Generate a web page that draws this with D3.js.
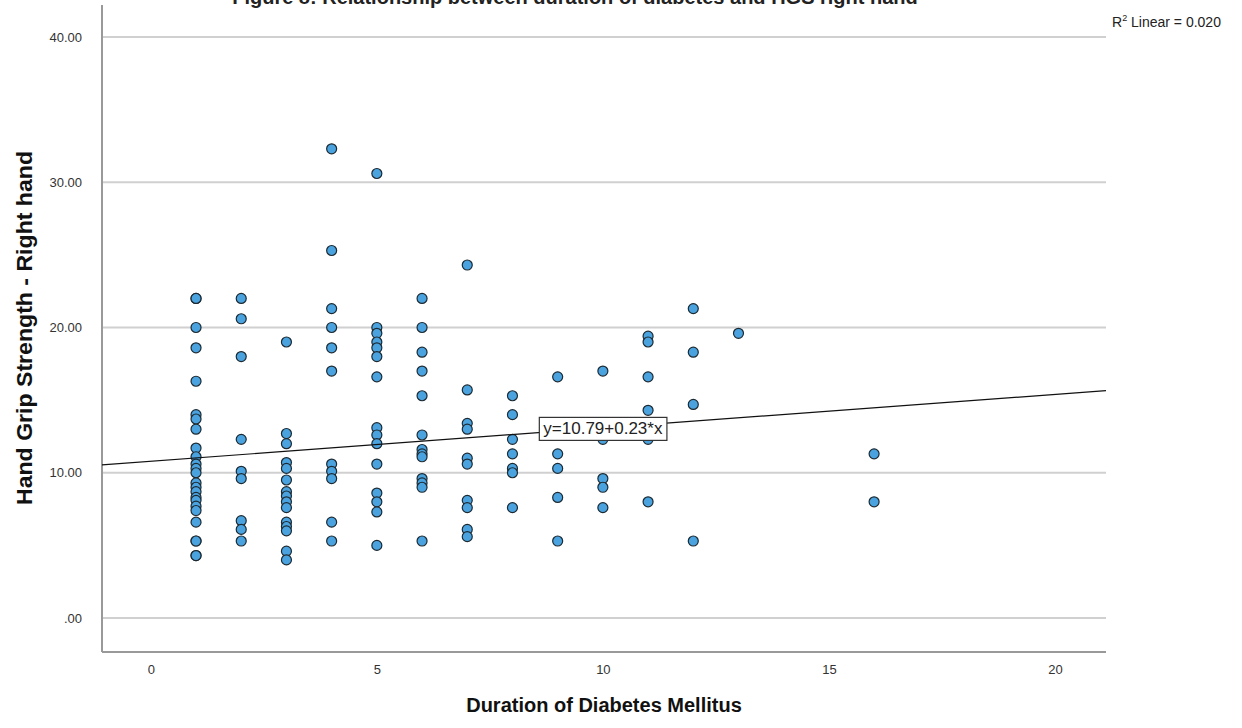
<!DOCTYPE html>
<html>
<head>
<meta charset="utf-8">
<script src="https://cdn.jsdelivr.net/npm/d3@7"></script>
<style>
  body { margin: 0; background: #fff; }
  svg { font-family: "Liberation Sans", Arial, sans-serif; }
</style>
</head>
<body>
<div id="vis"></div>
<script>
// chart data
const DURATIONS = [1, 2, 3, 4, 5, 6, 7, 8, 9, 10, 11, 12, 13, 16];
const GRIP_VALUES = [
  [22, 22, 20, 18.6, 16.3, 14, 13.7, 13, 11.7, 11.1, 10.6, 10.3, 10, 9.3, 9, 8.7, 8.3, 8.1, 7.7, 7.4, 6.6, 5.3, 5.3, 4.3, 4.3],
  [22, 20.6, 18, 12.3, 10.1, 9.6, 6.7, 6.1, 5.3],
  [19, 12.7, 12, 10.7, 10.3, 9.5, 8.7, 8.4, 8, 7.6, 6.6, 6.3, 6, 4.6, 4],
  [32.3, 25.3, 21.3, 20, 18.6, 17, 10.6, 10.1, 9.6, 6.6, 5.3],
  [30.6, 20, 19.6, 19, 18.6, 18, 16.6, 13.1, 12.6, 12, 10.6, 8.6, 8, 7.3, 5],
  [22, 20, 18.3, 17, 15.3, 12.6, 11.6, 11.3, 11.1, 9.6, 9.3, 9, 5.3],
  [24.3, 15.7, 13.4, 13, 11, 10.6, 8.1, 7.6, 6.1, 5.6],
  [15.3, 14, 12.3, 11.3, 10.3, 10, 7.6],
  [16.6, 12.6, 11.3, 10.3, 8.3, 5.3],
  [17, 12.3, 9.6, 9, 7.6],
  [19.4, 19, 16.6, 14.3, 12.3, 8],
  [21.3, 18.3, 14.7, 5.3],
  [19.6],
  [11.3, 8]
];
const X_TICKS = [0, 5, 10, 15, 20];
const Y_TICKS = [0, 10, 20, 30, 40];
const FIT = {intercept: 10.79, slope: 0.23, r2: 0.020};

const FRAME_WIDTH = 1242;
const FRAME_HEIGHT = 728;
const PLOT = {left: 102, right: 1106, top: 5, bottom: 652};

const points = [];
DURATIONS.forEach((d, i) => {
  GRIP_VALUES[i].forEach((v) => { points.push({x: d, y: v}); });
});

const svg = d3.select("#vis")
  .append("svg")
    .attr("width", FRAME_WIDTH)
    .attr("height", FRAME_HEIGHT);

// scales
const X_SCALE = d3.scaleLinear()
  .domain([-1.08, 21.13])
  .range([PLOT.left, PLOT.right]);
const Y_SCALE = d3.scaleLinear()
  .domain([-2.34, 42.2])
  .range([PLOT.bottom, PLOT.top]);

// title (cut off at the top like the original)
svg.append("text")
  .attr("x", 575)
  .attr("y", 4)
  .attr("text-anchor", "middle")
  .attr("font-size", "20px")
  .attr("font-weight", "bold")
  .attr("fill", "#222")
  .text("Figure 8: Relationship between duration of diabetes and HGS right hand");

// gridlines
svg.append("g")
  .selectAll("line")
  .data(Y_TICKS)
  .enter()
  .append("line")
    .attr("x1", PLOT.left)
    .attr("x2", PLOT.right)
    .attr("y1", (d) => Y_SCALE(d))
    .attr("y2", (d) => Y_SCALE(d))
    .attr("stroke", "#d0d0d0")
    .attr("stroke-width", 2);

// y axis
const yAxis = svg.append("g")
  .attr("transform", "translate(" + PLOT.left + ",0)")
  .call(d3.axisLeft(Y_SCALE)
    .tickValues(Y_TICKS)
    .tickSize(0)
    .tickPadding(20)
    .tickFormat((d) => d === 0 ? ".00" : d.toFixed(2)));
yAxis.select(".domain").remove();
yAxis.selectAll("text").attr("font-size", "13px").attr("fill", "#333")
  .attr("font-family", "Liberation Sans, Arial, sans-serif");

// x axis
const xAxis = svg.append("g")
  .attr("transform", "translate(0," + PLOT.bottom + ")")
  .call(d3.axisBottom(X_SCALE)
    .tickValues(X_TICKS)
    .tickSize(0)
    .tickPadding(13));
xAxis.select(".domain").remove();
xAxis.selectAll("text").attr("font-size", "13px").attr("fill", "#333")
  .attr("font-family", "Liberation Sans, Arial, sans-serif");

// axis lines
svg.append("line")
  .attr("x1", PLOT.left).attr("x2", PLOT.left)
  .attr("y1", PLOT.top).attr("y2", PLOT.bottom)
  .attr("stroke", "#999").attr("stroke-width", 2);
svg.append("line")
  .attr("x1", PLOT.left).attr("x2", PLOT.right)
  .attr("y1", PLOT.bottom).attr("y2", PLOT.bottom)
  .attr("stroke", "#999").attr("stroke-width", 2);

// axis titles
svg.append("text")
  .attr("transform", "translate(32,328) rotate(-90)")
  .attr("text-anchor", "middle")
  .attr("font-size", "22px")
  .attr("font-weight", "bold")
  .attr("fill", "#111")
  .attr("textLength", 354)
  .attr("lengthAdjust", "spacingAndGlyphs")
  .text("Hand Grip Strength - Right hand");

svg.append("text")
  .attr("x", 604)
  .attr("y", 712)
  .attr("text-anchor", "middle")
  .attr("font-size", "20px")
  .attr("font-weight", "bold")
  .attr("fill", "#111")
  .text("Duration of Diabetes Mellitus");

// points
svg.append("g")
  .selectAll("circle")
  .data(points)
  .enter()
  .append("circle")
    .attr("cx", (d) => X_SCALE(d.x))
    .attr("cy", (d) => Y_SCALE(d.y))
    .attr("r", 5)
    .attr("fill", "#4aa3df")
    .attr("stroke", "#1c2a33")
    .attr("stroke-width", 1.2);

// fit line
const xDom = X_SCALE.domain();
svg.append("line")
  .attr("x1", X_SCALE(xDom[0]))
  .attr("y1", Y_SCALE(FIT.intercept + FIT.slope * xDom[0]))
  .attr("x2", X_SCALE(xDom[1]))
  .attr("y2", Y_SCALE(FIT.intercept + FIT.slope * xDom[1]))
  .attr("stroke", "#111")
  .attr("stroke-width", 1.2);

// equation label
const label = svg.append("g")
  .attr("transform", "translate(" + X_SCALE(10) + "," + Y_SCALE(13.05) + ")");
const labelText = label.append("text")
  .attr("text-anchor", "middle")
  .attr("dy", "0.35em")
  .attr("font-size", "17px")
  .attr("fill", "#222")
  .text("y=" + FIT.intercept + "+" + FIT.slope + "*x");
const bb = labelText.node().getBBox();
label.insert("rect", "text")
  .attr("x", bb.x - 4)
  .attr("y", bb.y - 2)
  .attr("width", bb.width + 8)
  .attr("height", bb.height + 4)
  .attr("fill", "#fff")
  .attr("stroke", "#333")
  .attr("stroke-width", 1.2);

// R squared note
const r2 = svg.append("text")
  .attr("x", 1112)
  .attr("y", 27)
  .attr("font-size", "14px")
  .attr("fill", "#222");
r2.append("tspan").text("R");
r2.append("tspan").attr("font-size", "9px").attr("dy", "-6").text("2");
r2.append("tspan").attr("dy", "6").text(" Linear = " + FIT.r2.toFixed(3));
</script>
</body>
</html>
